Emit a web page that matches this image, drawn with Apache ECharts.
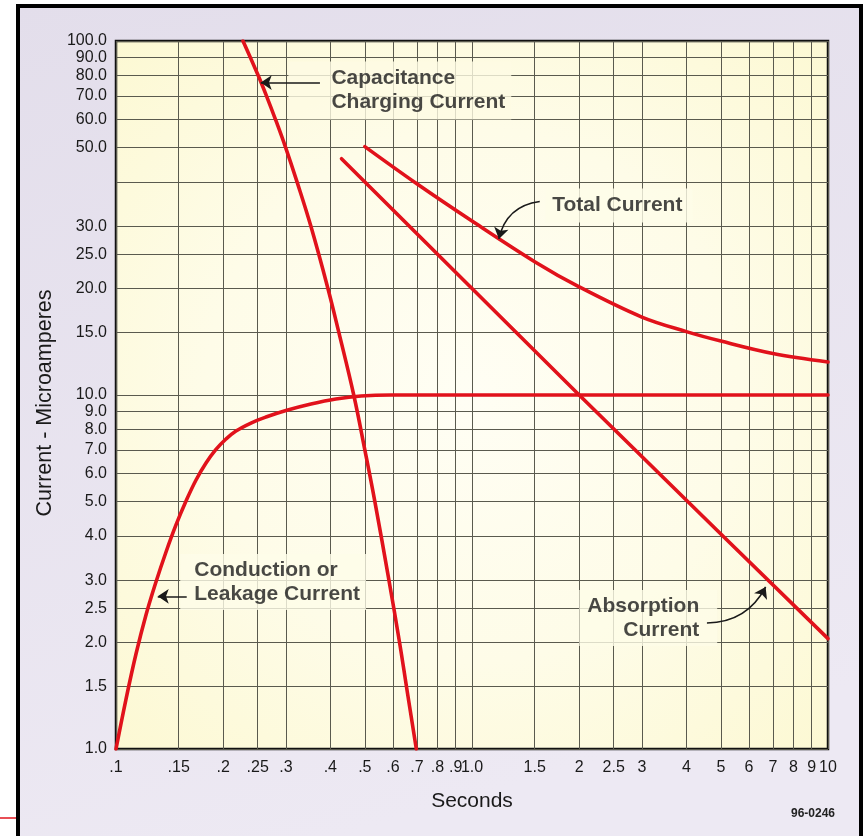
<!DOCTYPE html>
<html>
<head>
<meta charset="utf-8">
<script src="https://cdn.jsdelivr.net/npm/echarts@6.0.0/dist/echarts.min.js"></script>
<style>
  html, body { margin: 0; padding: 0; background: #ffffff; }
  #chart { width: 864px; height: 836px; }
</style>
</head>
<body>
<div id="chart"></div>
<script>
// Insulation test: components of the test current versus time, log-log scales.

// Axis ticks (every tick draws a grid line; an empty label leaves the line unlabelled)
const xTickValues = [0.1, 0.15, 0.2, 0.25, 0.3, 0.4, 0.5, 0.6, 0.7, 0.8, 0.9, 1, 1.5, 2, 2.5, 3, 4, 5, 6, 7, 8, 9, 10];
const xTickLabels = ['.1', '.15', '.2', '.25', '.3', '.4', '.5', '.6', '.7', '.8', '.9', '1.0', '1.5', '2', '2.5', '3', '4', '5', '6', '7', '8', '9', '10'];
const yTickValues = [1, 1.5, 2, 2.5, 3, 4, 5, 6, 7, 8, 9, 10, 15, 20, 25, 30, 40, 50, 60, 70, 80, 90, 100];
const yTickLabels = ['1.0', '1.5', '2.0', '2.5', '3.0', '4.0', '5.0', '6.0', '7.0', '8.0', '9.0', '10.0', '15.0', '20.0', '25.0', '30.0', '', '50.0', '60.0', '70.0', '80.0', '90.0', '100.0'];

// Curves: [seconds, microamperes]
const capacitanceCharging = [[0.2274, 100], [0.2507, 80], [0.2646, 70], [0.2806, 60], [0.2996, 50], [0.3225, 40], [0.3526, 30], [0.3938, 20], [0.4228, 15], [0.4654, 10], [0.5, 7], [0.5335, 5], [0.5843, 3], [0.6259, 2], [0.6546, 1.5], [0.6976, 1.0]];
const conductionLeakage = [[0.1, 1.0], [0.1067, 1.384], [0.1138, 1.855], [0.1214, 2.391], [0.1295, 2.963], [0.1382, 3.602], [0.1474, 4.294], [0.1573, 5.018], [0.1678, 5.753], [0.179, 6.425], [0.1909, 7.018], [0.2037, 7.51], [0.2173, 7.912], [0.2394, 8.334], [0.2638, 8.666], [0.3002, 9.043], [0.353, 9.432], [0.4145, 9.743], [0.4878, 9.935], [0.5924, 10], [1, 10], [10, 10]];
const absorption = [[0.43, 46.5], [1, 20], [2, 10], [5, 4.05], [10, 2.05]];
const totalCurrent = [[0.5, 50.3], [0.7, 39.5], [1, 31], [1.5, 23.8], [2, 20.2], [3, 16.6], [4, 15.1], [5, 14.2], [7, 13.1], [10, 12.4]];

// Callout texts
const noteTexts = ['Capacitance\nCharging Current', 'Total Current', 'Conduction or\nLeakage Current', 'Absorption\nCurrent'];

const RED = '#e1121b';
const INK = '#1a1a1a';
const SANS = "'Liberation Sans', Arial, Helvetica, sans-serif";

function lookupLabel(values, labels) {
  return function (v) {
    for (let i = 0; i < values.length; i++) {
      if (Math.abs(values[i] - v) <= values[i] * 1e-6) return labels[i];
    }
    return '';
  };
}

const chart = echarts.init(document.getElementById('chart'), null, { renderer: 'canvas' });

const curveLine = (name, data, smooth) => ({
  name: name,
  type: 'line',
  data: data,
  z: 3,
  smooth: smooth,
  showSymbol: false,
  symbol: 'none',
  lineStyle: { color: RED, width: 3.6, cap: 'round', join: 'round' },
  emphasis: { disabled: true },
  animation: false
});

const noteLabel = (padding, align, bg) => ({
  show: true,
  position: [0, 0],
  align: align,
  verticalAlign: 'middle',
  fontFamily: SANS,
  fontWeight: 'bold',
  fontSize: 21,
  lineHeight: 24,
  color: INK,
  backgroundColor: bg,
  padding: padding,
  formatter: '{b}'
});

const option = {
  animation: false,
  backgroundColor: '#ffffff',
  textStyle: { fontFamily: SANS },
  graphic: [
    {
      type: 'rect', z: -10, silent: true,
      shape: { x: 18, y: 6, width: 843, height: 850 },
      style: {
        fill: {
          type: 'linear', x: 0, y: 0, x2: 0.3, y2: 1,
          colorStops: [{ offset: 0, color: '#e3deeb' }, { offset: 1, color: '#ede9f3' }]
        },
        stroke: '#000000', lineWidth: 4
      }
    },
    {
      type: 'line', z: -5, silent: true,
      shape: { x1: 0, y1: 818, x2: 16, y2: 818 },
      style: { stroke: '#e0141e', lineWidth: 1.5 }
    },
    {
      type: 'text', silent: true, right: 29, top: 808,
      style: { text: '96-0246', font: "bold 12px 'Liberation Sans', Arial, sans-serif", fill: '#222' }
    }
  ],
  grid: {
    left: 116, right: 36, top: 41, bottom: 87,
    outerBoundsMode: 'none',
    show: true,
    borderColor: '#111111',
    borderWidth: 2.5,
    backgroundColor: {
      type: 'radial', x: 0.5, y: 0.5, r: 0.75,
      colorStops: [
        { offset: 0, color: '#fffef4' },
        { offset: 0.5, color: '#fefce8' },
        { offset: 1, color: '#fcf8d0' }
      ]
    }
  },
  xAxis: {
    type: 'log', logBase: 10, min: 0.1, max: 10,
    name: 'Seconds', nameLocation: 'middle', nameGap: 42,
    nameTextStyle: { fontFamily: SANS, fontSize: 21, color: INK },
    axisLine: { show: false },
    axisTick: { show: false, customValues: xTickValues },
    axisLabel: {
      customValues: xTickValues,
      showMinLabel: true, showMaxLabel: true, hideOverlap: false,
      formatter: lookupLabel(xTickValues, xTickLabels),
      fontFamily: SANS, fontSize: 16, color: INK, margin: 11
    },
    splitLine: { show: true, lineStyle: { color: '#5a5a4e', width: 1 } },
    minorSplitLine: { show: false }
  },
  yAxis: {
    type: 'log', logBase: 10, min: 1, max: 100,
    name: 'Current - Microamperes', nameLocation: 'middle', nameGap: 59,
    nameTextStyle: { fontFamily: SANS, fontSize: 21.5, color: INK, padding: [0, 16, 0, 0] },
    axisLine: { show: false },
    axisTick: { show: false, customValues: yTickValues },
    axisLabel: {
      customValues: yTickValues,
      showMinLabel: true, showMaxLabel: true, hideOverlap: false,
      formatter: lookupLabel(yTickValues, yTickLabels),
      fontFamily: SANS, fontSize: 16, color: INK, margin: 9
    },
    splitLine: { show: true, lineStyle: { color: '#5a5a4e', width: 1 } },
    minorSplitLine: { show: false }
  },
  series: [
    {
      name: 'notes',
      type: 'scatter',
      z: 1,
      symbol: 'circle',
      symbolSize: 1,
      itemStyle: { color: 'rgba(0,0,0,0)' },
      emphasis: { disabled: true },
      data: [
        { name: noteTexts[0], value: [0.306, 72.2], label: noteLabel([5, 6, 5, 43], 'left', '#fefbe4') },
        { name: noteTexts[1], value: [1.61, 34.2], label: noteLabel([5, 10, 5, 7], 'left', '#fefce9') },
        { name: noteTexts[2], value: [0.152, 2.953], label: noteLabel([4, 6, 4, 14], 'left', '#fefce8') },
        { name: noteTexts[3], value: [4.9, 2.337], label: noteLabel([4, 18, 4, 8], 'right', '#fefce7') }
      ]
    },
    curveLine('Capacitance Charging Current', capacitanceCharging, 0.4),
    curveLine('Conduction or Leakage Current', conductionLeakage, 0.4),
    curveLine('Absorption Current', absorption, false),
    curveLine('Total Current', totalCurrent, 0.35),
    {
      name: 'pointers',
      type: 'lines',
      coordinateSystem: 'cartesian2d',
      z: 4,
      symbol: ['none', 'arrow'],
      symbolSize: [1, 11],
      silent: true,
      lineStyle: { color: INK, width: 1.6, opacity: 1 },
      data: [
        { coords: [[0.374, 76.3], [0.255, 76.3]], lineStyle: { curveness: 0 } },
        { coords: [[0.158, 2.7], [0.131, 2.7]], lineStyle: { curveness: 0 } },
        { coords: [[1.55, 35.2], [1.19, 27.6]], lineStyle: { curveness: -0.35 } },
        { coords: [[4.57, 2.27], [6.68, 2.87]], lineStyle: { curveness: -0.3 } }
      ]
    }
  ]
};

chart.setOption(option);
</script>
</body>
</html>
